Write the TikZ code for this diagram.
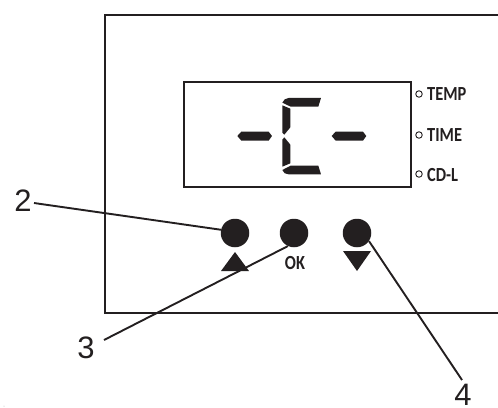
\documentclass[tikz,border=0pt]{standalone}
\usepackage{fontspec}
\setmainfont{Liberation Sans}
\newfontfamily\panelfont[FakeStretch=0.82]{Carlito}
\definecolor{ink}{HTML}{231F20}
\tikzset{
  frameline/.style={draw=ink,line width=1.7pt},
  leader/.style={draw=ink,line width=1.9pt},
  knob/.style={circle,fill=ink,minimum size=28.5pt,inner sep=0pt},
  seg/.style={fill=ink,draw=none},
  callout/.style={text=ink,font=\fontsize{31}{31}\selectfont,inner sep=0pt},
  paneltext/.style={text=ink,font=\panelfont\bfseries\fontsize{20}{20}\selectfont,inner sep=0pt,anchor=west},
  ledring/.style={circle,draw=ink,line width=0.9pt,minimum size=6.5pt,inner sep=0pt},
}
\begin{document}
\begin{tikzpicture}[x=1pt,y=-1pt]
\useasboundingbox (0,0) rectangle (498,407);
% outer panel, open on the right
\draw[frameline] (498,15) -- (105,15) -- (105,313) -- (498,313);
% display window
\draw[frameline] (184,82) rectangle (411,187);
% display segments
\begin{scope}[shift={(170,70)},x=0.3333pt,y=-0.3333pt]
\fill[seg] (202,198)--(214,185)--(296,185)--(306,198)--(296,212)--(214,212)--cycle;
\fill[seg] (485,198)--(497,185)--(579,185)--(589,198)--(579,212)--(497,212)--cycle;
\fill[seg] (337,98) .. controls (341,90) and (346,84) .. (356,84)--(453,84)--(445,110)--(362,110)--cycle;
\fill[seg] (337,106)--(361,116)--(361,172)--(343,194)--(337,188)--cycle;
\fill[seg] (337,209)--(343,202)--(361,224)--(361,280)--(337,290)--cycle;
\fill[seg] (337,300)--(362,287)--(445,287)--(453,313)--(356,313) .. controls (346,313) and (341,309) .. (337,300)--cycle;
\end{scope}
% indicators
\node[ledring] (r1) at (419,94) {};
\node[ledring] (r2) at (419,135) {};
\node[ledring] (r3) at (419,174) {};
\node[paneltext] (t1) at (427,94.5) {TEMP};
\node[paneltext] (t2) at (427,135.5) {TIME};
\node[paneltext] (t3) at (427,175) {CD-L};
% buttons
\node[knob] (up) at (235,233) {};
\node[knob] (ok) at (294,233) {};
\node[knob] (down) at (357,233) {};
\fill[ink] (235,252)--(249,271)--(221,271)--cycle;
\fill[ink] (343,251)--(371,251)--(357,271)--cycle;
\node[text=ink,font=\panelfont\bfseries\fontsize{20}{20}\selectfont,inner sep=0pt] (oklabel) at (295,263.5) {OK};
% callouts
\node[callout] (n2) at (23,200.5) {2};
\node[callout] (n3) at (86,347.5) {3};
\node[callout] (n4) at (463,394.5) {4};
\coordinate (e2) at (34,203);
\coordinate (e3) at (104,340);
\coordinate (e4) at (462,380);
\draw[leader] (e2) -- (up.167);
\draw[leader] (e3) -- (ok.245);
\draw[leader] (e4) -- (down.326);
\fill[gray!60] (4,406) circle (0.5pt);
\end{tikzpicture}
\end{document}
